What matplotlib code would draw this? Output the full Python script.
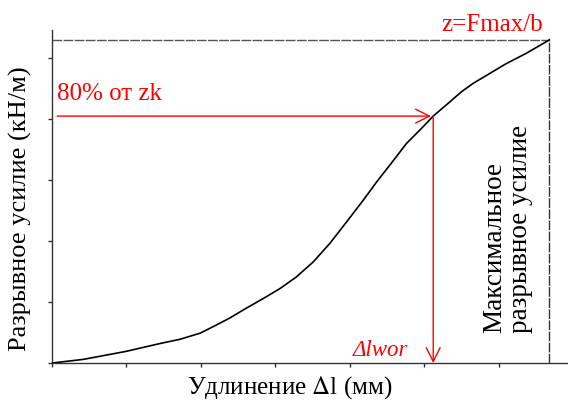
import matplotlib
matplotlib.use('Agg')
import matplotlib.pyplot as plt

plt.rcParams['font.family'] = ['Liberation Serif', 'DejaVu Serif']
plt.rcParams['mathtext.fontset'] = 'stix'

# ── Curve points ──
elong = [0.0, 0.42, 0.99, 1.45, 1.72, 1.99, 2.17, 2.39, 2.61, 2.84, 3.06, 3.28, 3.51,
         3.73, 3.96, 4.18, 4.36, 4.54, 4.76, 4.98, 5.12, 5.34, 5.50, 5.66, 5.88, 6.10, 6.37, 6.68]
force = [0.0, 0.06, 0.19, 0.32, 0.39, 0.49, 0.60, 0.74, 0.90, 1.06, 1.22, 1.41, 1.66,
         1.96, 2.32, 2.67, 2.97, 3.25, 3.60, 3.87, 4.05, 4.28, 4.45, 4.59, 4.75, 4.91, 5.08, 5.30]

x_max_force = 6.68
y_max_force = 5.30
x_80 = 5.12
y_80 = 4.05

x_ticks = [0, 1, 2, 3, 4, 5, 6]
y_ticks = [0, 1, 2, 3, 4, 5]

fig = plt.figure(figsize=(5.68, 4.07), dpi=100)
ax = fig.add_axes([0.0915, 0.108, 0.9085, 0.818])

# ── Curve ──
ax.plot(elong, force, color='black', linewidth=1.2, zorder=3, solid_joinstyle='round')

# ── Max lines ──
ax.plot([0, x_max_force], [y_max_force, y_max_force], color='#555555', linewidth=1.0,
        linestyle=(0, (7, 1)))
ax.plot([x_max_force, x_max_force], [0, y_max_force], color='#333333', linewidth=1.0,
        linestyle=(0, (7, 1)))

# ── 80% arrows ──
red = '#ff0000'
ax.annotate('', xy=(x_80 - 0.03, y_80), xytext=(0.07, y_80),
            arrowprops=dict(arrowstyle='->,head_length=1.0,head_width=0.5', color=red, lw=1.0,
                            shrinkA=0, shrinkB=0))
ax.annotate('', xy=(x_80, 0.0), xytext=(x_80, y_80),
            arrowprops=dict(arrowstyle='->,head_length=1.0,head_width=0.5', color=red, lw=1.0,
                            shrinkA=0, shrinkB=0))

# ── Texts ──
ax.text(0.07, 4.31, '80% от zk', color=red, fontsize=18, ha='left', va='baseline')
ax.text(6.59, 5.44, 'z=Fmax/b', color=red, fontsize=18, ha='right', va='baseline',
        clip_on=False)
ax.text(4.04, 0.12, 'Δlwor', color=red, fontsize=16.5, style='italic', ha='left', va='baseline')
ax.text(6.12, 0.49, 'Максимальное\nразрывное усилие', rotation=90, fontsize=19.5,
        ha='center', va='bottom', multialignment='left', linespacing=1.05)

ax.set_xlabel('Удлинение $\\mathit{\\Delta}$l (мм)', fontsize=18)
ax.set_ylabel('Разрывное усилие (кН/м)', fontsize=19)
ax.xaxis.set_label_coords(0.461, -0.033)
ax.yaxis.set_label_coords(-0.038, 0.465)

ax.set_xlim(0, 6.93)
ax.set_ylim(0, 5.46)
ax.set_xticks(x_ticks)
ax.set_yticks(y_ticks)
ax.set_xticklabels([])
ax.set_yticklabels([])
ax.tick_params(direction='out', length=3, width=1, color='#333333')
ax.spines['top'].set_visible(False)
ax.spines['right'].set_visible(False)
for s in ('left', 'bottom'):
    ax.spines[s].set_color('#333333')
    ax.spines[s].set_linewidth(1.0)

fig.savefig('out.png', dpi=100, facecolor='white')
